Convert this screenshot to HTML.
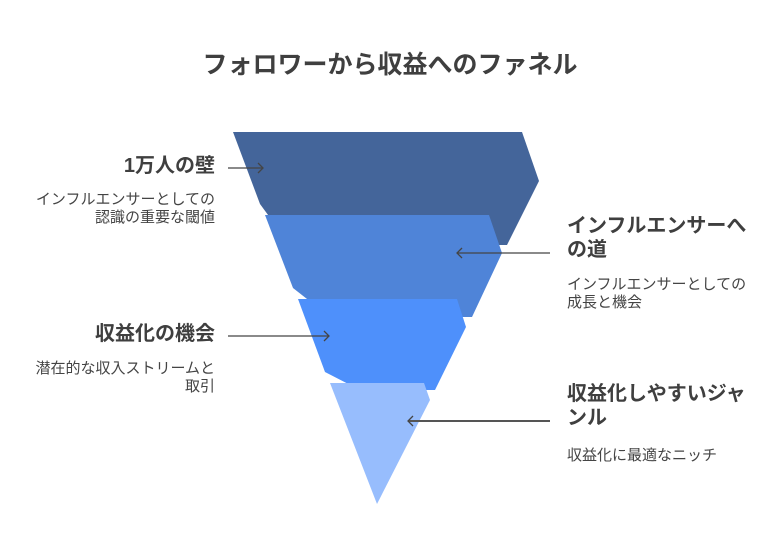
<!DOCTYPE html>
<html><head><meta charset="utf-8"><style>
body{margin:0;width:780px;height:552px;background:#fff;position:relative;overflow:hidden;font-family:"Liberation Sans","Noto Sans CJK JP",sans-serif;color:#3f3f3f}
.t{position:absolute;white-space:nowrap}
.h{font-size:20px;font-weight:bold;line-height:24px}
.b{font-size:15px;line-height:18px;color:#444}
.l{right:565px;text-align:right}
.r{left:567px}
</style></head><body>
<svg width="780" height="552" style="position:absolute;left:0;top:0">
<polygon points="233,132 522,132 539,181 507,245 290,245 260,204" fill="#44659a"/>
<polygon points="265,215 489,215 502,253 472,317 330,317 293,288" fill="#4f84d8"/>
<polygon points="298,299 457,299 466,327 435,390 360,390 325,372" fill="#4e90fb"/>
<polygon points="330,383 424,383 430,400 377,504" fill="#97bdfd"/>
<g stroke="#444" stroke-width="1.3" fill="none">
<line x1="228" y1="168" x2="263" y2="168"/><polyline points="258,163 263,168 258,173"/>
<line x1="550" y1="253" x2="457" y2="253"/><polyline points="462,248 457,253 462,258"/>
<line x1="228" y1="336" x2="329" y2="336"/><polyline points="324,331 329,336 324,341"/>
<line x1="550" y1="421" x2="408" y2="421" stroke-width="2" stroke="#555"/><polyline points="413,416 408,421 413,426"/>
</g>
</svg>
<div class="t" style="left:0;width:780px;text-align:center;top:50px;font-size:25px;font-weight:bold;line-height:30px">フォロワーから収益へのファネル</div>
<div class="t h l" style="top:154px">1万人の壁</div>
<div class="t b l" style="top:191px">インフルエンサーとしての<br>認識の重要な閾値</div>
<div class="t h r" style="top:214px">インフルエンサーへ<br>の道</div>
<div class="t b r" style="top:276px">インフルエンサーとしての<br>成長と機会</div>
<div class="t h l" style="top:322px">収益化の機会</div>
<div class="t b l" style="top:360px">潜在的な収入ストリームと<br>取引</div>
<div class="t h r" style="top:382px">収益化しやすいジャ<br>ンル</div>
<div class="t b r" style="top:447px">収益化に最適なニッチ</div>
</body></html>
